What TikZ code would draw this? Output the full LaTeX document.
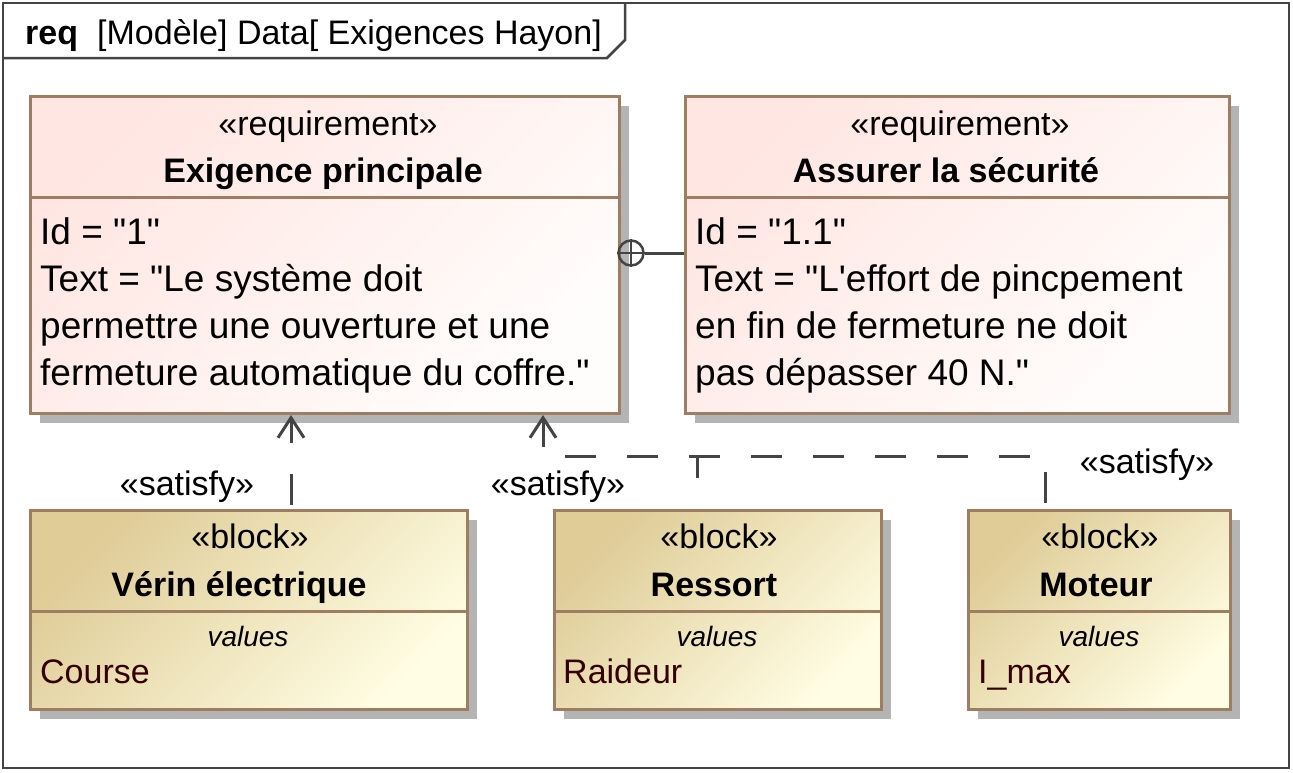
\documentclass[tikz,border=0pt]{standalone}
\usepackage{fontspec}
\setmainfont{Liberation Sans}[Ligatures=TeXOff]
\usetikzlibrary{arrows.meta,shadows}
\definecolor{brd}{HTML}{9E7E62}
\definecolor{frm}{HTML}{444444}
\definecolor{reqA}{HTML}{FFE6E2}
\definecolor{reqB}{HTML}{FFFDFC}
\definecolor{blkA}{HTML}{DFCC97}
\definecolor{blkB}{HTML}{FFFDE3}
\definecolor{attr}{HTML}{330000}
\definecolor{shd}{HTML}{B4B4B4}
\newcommand\myfs[1]{\fontsize{#1}{#1}\selectfont}
\tikzset{
  box/.style={rectangle, draw=brd, line width=3pt, inner sep=0pt, anchor=north west,
    drop shadow={shadow xshift=9pt, shadow yshift=-9pt, fill=shd, opacity=1}},
  reqbox/.style={box, top color=reqA, bottom color=reqB, shading angle=45},
  blkbox/.style={box, top color=blkA, bottom color=blkB, shading angle=45},
  sepline/.style={draw=brd, line width=3pt},
  stereo/.style={inner sep=0pt, anchor=base, font=\myfs{34}},
  title/.style={inner sep=0pt, anchor=base, font=\myfs{34}\bfseries},
  body/.style={inner sep=0pt, anchor=base west, font=\myfs{37}},
  vals/.style={inner sep=0pt, anchor=base, font=\myfs{28}\itshape},
  attrtxt/.style={inner sep=0pt, anchor=base west, font=\myfs{34}, text=attr},
  satlabel/.style={inner sep=0pt, anchor=base, font=\myfs{34}},
  satline/.style={draw=frm, line width=3pt, dash pattern=on 31pt off 31pt},
  opentip/.style={-{Straight Barb[length=20pt, width=26pt]}},
  frameline/.style={draw=frm, line width=2.5pt},
}
\begin{document}
\begin{tikzpicture}[x=1pt, y=-1pt]
\useasboundingbox (0,0) rectangle (1293,772);
% outer frame
\draw[frameline] (3,3) rectangle (1289,768);
\draw[frameline] (3,58) -- (607,58) -- (625,40) -- (625,3);
\node[inner sep=0pt, anchor=base west, font=\myfs{34}\bfseries] (hreq) at (25,44) {req};
\node[inner sep=0pt, anchor=base west, font=\myfs{34}] (hname) at (97,44) {[Modèle] Data[ Exigences Hayon]};

% requirement 1
\node[reqbox, minimum width=589pt, minimum height=317pt] (r1) at (29,95) {};
\draw[sepline] (29,197) -- (618,197);
\node[stereo] (r1s) at (328,135) {«requirement»};
\node[title] (r1t) at (323,182) {Exigence principale};
\node[body] (r1a) at (40,244) {Id = "1"};
\node[body] (r1b) at (40,291) {Text = "Le système doit};
\node[body] (r1c) at (40,338) {permettre une ouverture et une};
\node[body] (r1d) at (40,385) {fermeture automatique du coffre."};

% requirement 2
\node[reqbox, minimum width=544pt, minimum height=317pt] (r2) at (684,95) {};
\draw[sepline] (684,197) -- (1228,197);
\node[stereo] (r2s) at (960,135) {«requirement»};
\node[title] (r2t) at (946,182) {Assurer la sécurité};
\node[body] (r2a) at (695,244) {Id = "1.1"};
\node[body] (r2b) at (695,291) {Text = "L'effort de pincpement};
\node[body] (r2c) at (695,338) {en fin de fermeture ne doit};
\node[body] (r2d) at (695,385) {pas dépasser 40 N."};

% blocks
\node[blkbox, minimum width=437pt, minimum height=199pt] (b1) at (29,509) {};
\draw[sepline] (29,611.5) -- (466,611.5);
\node[stereo] (b1s) at (250,548) {«block»};
\node[title] (b1t) at (239,596) {Vérin électrique};
\node[vals] (b1v) at (248,646.5) {values};
\node[attrtxt] (b1a) at (40,683) {Course};

\node[blkbox, minimum width=327pt, minimum height=199pt] (b2) at (553,509) {};
\draw[sepline] (553,611.5) -- (880,611.5);
\node[stereo] (b2s) at (719,548) {«block»};
\node[title] (b2t) at (714,596) {Ressort};
\node[vals] (b2v) at (717,646.5) {values};
\node[attrtxt] (b2a) at (563,683) {Raideur};

\node[blkbox, minimum width=262pt, minimum height=199pt] (b3) at (967,509) {};
\draw[sepline] (967,611.5) -- (1229,611.5);
\node[stereo] (b3s) at (1100,548) {«block»};
\node[title] (b3t) at (1096,596) {Moteur};
\node[vals] (b3v) at (1099,646.5) {values};
\node[attrtxt] (b3a) at (978,683) {I\_max};

% containment
\node[circle, draw=frm, line width=2.5pt, minimum size=25pt, inner sep=0pt] (cont) at (631,253) {};
\draw[draw=frm, line width=2.5pt] (cont.north) -- (cont.south) (cont.west) -- (cont.east);
\draw[draw=frm, line width=3pt] (cont.east) -- (r2.west |- cont.east);

% satisfy connectors
\coordinate (x1) at (291,0);
\coordinate (x2) at (543,0);
\coordinate (x3) at (697,0);
\coordinate (x4) at (1045,0);
\coordinate (jy) at (0,456);
\draw[satline, dash phase=58pt, opentip] (b1.north -| x1) -- (r1.south -| x1);
\draw[satline, dash phase=56pt, opentip] (b3.north -| x4) |- (x2 |- jy) -- (r1.south -| x2);
\draw[satline, dash phase=31pt] (b2.north -| x3) -- (x3 |- jy);
\node[satlabel] (l1) at (187,495) {«satisfy»};
\node[satlabel] (l2) at (558,495) {«satisfy»};
\node[satlabel] (l3) at (1147,473) {«satisfy»};
\end{tikzpicture}
\end{document}
